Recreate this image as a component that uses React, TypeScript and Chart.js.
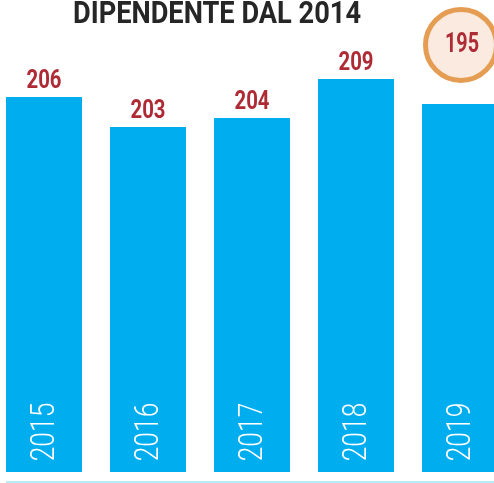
import React, { useEffect, useRef } from 'react';
import { Chart, registerables } from 'chart.js';
Chart.register(...registerables);

const titleText = 'DIPENDENTE DAL 2014';
const years = ['2015', '2016', '2017', '2018', '2019'];
const values = [206, 203, 204, 209, 195];
// bar heights as drawn in the infographic (not proportional to the values)
const drawnHeights = [375, 345, 354, 393, 368];
const highlighted = [false, false, false, false, true];

const BAR = '#00AEEF';
const RED = '#AE2A35';
const TITLE = '#262626';
const RING = '#E49D52';
const RING_FILL = '#FAEADF';
const BASE_LINE = '#A9E2F6';

// draws text horizontally condensed so that `ref` would be `targetW` wide
function condensedText(ctx: CanvasRenderingContext2D, text: string, x: number, y: number, font: string, ref: string, targetW: number) {
  ctx.save();
  ctx.font = font;
  const w = ctx.measureText(ref).width;
  const s = targetW / w;
  ctx.translate(x, y);
  ctx.scale(s, 1);
  ctx.textAlign = 'center';
  ctx.textBaseline = 'alphabetic';
  ctx.fillText(text, 0, 0);
  ctx.restore();
}

const labelsPlugin = {
  id: 'infoLabels',
  afterDatasetsDraw(chart: any) {
    const ctx = chart.ctx as CanvasRenderingContext2D;
    const area = chart.chartArea;
    const meta = chart.getDatasetMeta(0);
    ctx.save();
    // title
    ctx.fillStyle = TITLE;
    condensedText(ctx, titleText, 225, 23, 'bold 32px Roboto, sans-serif', titleText, 288);

    meta.data.forEach((el: any, i: number) => {
      const x = el.x;
      const top = el.y;
      const bottom = el.base;
      if (highlighted[i]) {
        const cy = area.top - 27;
        ctx.beginPath();
        ctx.arc(x + 1, cy, 35.5, 0, Math.PI * 2);
        ctx.fillStyle = RING_FILL;
        ctx.fill();
        ctx.lineWidth = 5;
        ctx.strokeStyle = RING;
        ctx.stroke();
        ctx.fillStyle = RED;
        condensedText(ctx, String(values[i]), x + 2, cy + 7, 'bold 27px Roboto, sans-serif', String(values[i]), 34);
      } else {
        ctx.fillStyle = RED;
        condensedText(ctx, String(values[i]), x, top - 9, 'bold 25px Roboto, sans-serif', '206', 35);
      }
      // year label, rotated
      ctx.save();
      ctx.translate(x + 1, bottom - 40);
      ctx.rotate(-Math.PI / 2);
      ctx.scale(0.8, 1);
      ctx.fillStyle = '#ffffff';
      ctx.font = '300 33px Roboto, sans-serif';
      ctx.textAlign = 'center';
      ctx.textBaseline = 'middle';
      ctx.fillText(years[i], 0, 1);
      ctx.restore();
    });

    // base line
    const by = (meta.data[0] as any).base + 10;
    ctx.beginPath();
    ctx.moveTo(14, by);
    ctx.lineTo(chart.width, by);
    ctx.lineWidth = 1.5;
    ctx.strokeStyle = BASE_LINE;
    ctx.stroke();
    ctx.restore();
  },
};

export default function App() {
  const ref = useRef<HTMLCanvasElement>(null);
  useEffect(() => {
    if (!ref.current) return;
    const chart = new Chart(ref.current, {
      type: 'bar',
      data: {
        labels: years,
        datasets: [
          {
            data: drawnHeights,
            backgroundColor: BAR,
            borderWidth: 0,
            barPercentage: 76 / 104,
            categoryPercentage: 1,
          },
        ],
      },
      options: {
        animation: false,
        responsive: true,
        maintainAspectRatio: false,
        layout: { padding: { top: 72, bottom: 11, left: 0, right: 0 } },
        plugins: { legend: { display: false }, tooltip: { enabled: false }, title: { display: false } },
        scales: {
          x: { display: false, offset: true },
          y: { display: false, min: 0, max: 400 },
        },
      },
      plugins: [labelsPlugin],
    });
    return () => chart.destroy();
  }, []);
  return (
    <div style={{ position: 'fixed', left: 0, top: 0, width: 494, height: 483, overflow: 'hidden', background: '#fff' }}>
      <div style={{ position: 'absolute', left: -8, top: 0, width: 520, height: 483 }}>
        <canvas ref={ref} />
      </div>
    </div>
  );
}
